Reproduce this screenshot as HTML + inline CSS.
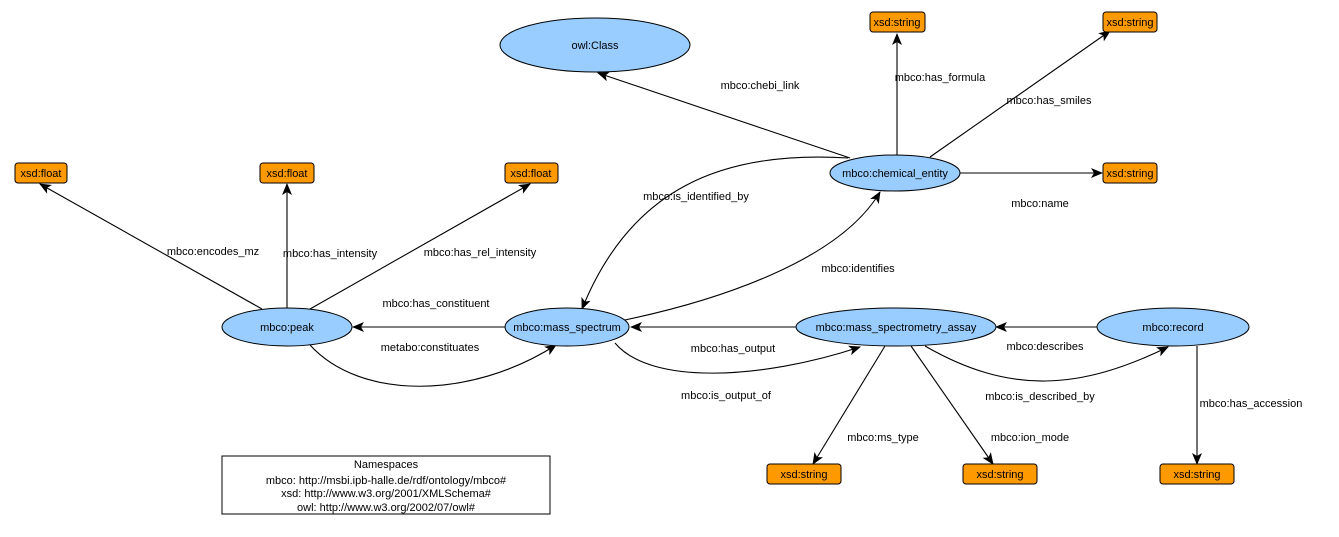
<!DOCTYPE html>
<html><head><meta charset="utf-8"><style>
body{margin:0;background:#fff}
svg text{font-family:"Liberation Sans",Arial,sans-serif;font-size:11px;fill:#000}
</style></head><body>
<svg width="1339" height="532" viewBox="0 0 1339 532" xmlns="http://www.w3.org/2000/svg">
<defs><marker id="a" markerWidth="12" markerHeight="10" refX="11" refY="5" orient="auto" markerUnits="userSpaceOnUse"><path d="M0,0 L12,5 L0,10 L3,5 z" fill="#000"/></marker></defs>
<g stroke="#000" stroke-width="1.1" fill="none" marker-end="url(#a)">
<path d="M850,158 L598,73"/>
<path d="M897,155 L897,34"/>
<path d="M930,157 L1110,31"/>
<path d="M960,173 L1102,173"/>
<path d="M848,158 C720,150 630,190 582,309"/>
<path d="M625,320 C720,300 840,260 880,192"/>
<path d="M262,309 L40,184"/>
<path d="M287,309 L287,184"/>
<path d="M310,309 L530,184"/>
<path d="M505,327 L353,327"/>
<path d="M310,345 C360,400 470,400 556,345"/>
<path d="M797,327 L631,327"/>
<path d="M615,343 C650,385 760,380 860,347"/>
<path d="M1097,327 L996,327"/>
<path d="M925,346 C1010,395 1080,390 1168,347"/>
<path d="M885,346 L813,464"/>
<path d="M911,346 L993,464"/>
<path d="M1197,346 L1197,464"/>
</g>
<g fill="#99ccff" stroke="#000" stroke-width="1">
<ellipse cx="595" cy="45" rx="95" ry="27"/>
<ellipse cx="895" cy="173" rx="65" ry="18"/>
<ellipse cx="287" cy="327" rx="65" ry="19"/>
<ellipse cx="567" cy="327" rx="62" ry="19"/>
<ellipse cx="896" cy="327" rx="100" ry="19"/>
<ellipse cx="1173" cy="327" rx="76" ry="19"/>
</g>
<g fill="#ff9900" stroke="#000" stroke-width="1">
<rect x="15" y="163" width="52" height="20" rx="3"/>
<rect x="260" y="163" width="54" height="20" rx="3"/>
<rect x="505" y="163" width="53" height="20" rx="3"/>
<rect x="870" y="12" width="55" height="20" rx="3"/>
<rect x="1103" y="12" width="54" height="20" rx="3"/>
<rect x="1103" y="163" width="54" height="20" rx="3"/>
<rect x="767" y="464" width="74" height="20" rx="3"/>
<rect x="963" y="464" width="74" height="20" rx="3"/>
<rect x="1160" y="464" width="74" height="20" rx="3"/>
</g>
<rect x="222" y="456" width="328" height="58" fill="#fff" stroke="#000"/>
<g text-anchor="middle">
<text x="595" y="49">owl:Class</text>
<text x="895" y="177">mbco:chemical_entity</text>
<text x="287" y="331">mbco:peak</text>
<text x="567" y="331">mbco:mass_spectrum</text>
<text x="896" y="331">mbco:mass_spectrometry_assay</text>
<text x="1173" y="331">mbco:record</text>
<text x="41" y="177">xsd:float</text>
<text x="287" y="177">xsd:float</text>
<text x="531" y="177">xsd:float</text>
<text x="897" y="26">xsd:string</text>
<text x="1130" y="26">xsd:string</text>
<text x="1130" y="177">xsd:string</text>
<text x="804" y="478">xsd:string</text>
<text x="1000" y="478">xsd:string</text>
<text x="1197" y="478">xsd:string</text>
<text x="386" y="468">Namespaces</text>
<text x="386" y="484">mbco: http://msbi.ipb-halle.de/rdf/ontology/mbco#</text>
<text x="386" y="497">xsd: http://www.w3.org/2001/XMLSchema#</text>
<text x="386" y="511">owl: http://www.w3.org/2002/07/owl#</text>
<text x="760" y="89">mbco:chebi_link</text>
<text x="940" y="81">mbco:has_formula</text>
<text x="1049" y="104">mbco:has_smiles</text>
<text x="1040" y="207">mbco:name</text>
<text x="696" y="200">mbco:is_identified_by</text>
<text x="858" y="272">mbco:identifies</text>
<text x="213" y="255">mbco:encodes_mz</text>
<text x="330" y="257">mbco:has_intensity</text>
<text x="480" y="256">mbco:has_rel_intensity</text>
<text x="436" y="307">mbco:has_constituent</text>
<text x="430" y="351">metabo:constituates</text>
<text x="733" y="352">mbco:has_output</text>
<text x="726" y="399">mbco:is_output_of</text>
<text x="1045" y="350">mbco:describes</text>
<text x="1040" y="400">mbco:is_described_by</text>
<text x="883" y="441">mbco:ms_type</text>
<text x="1030" y="441">mbco:ion_mode</text>
<text x="1251" y="407">mbco:has_accession</text>
</g>
</svg>
</body></html>
